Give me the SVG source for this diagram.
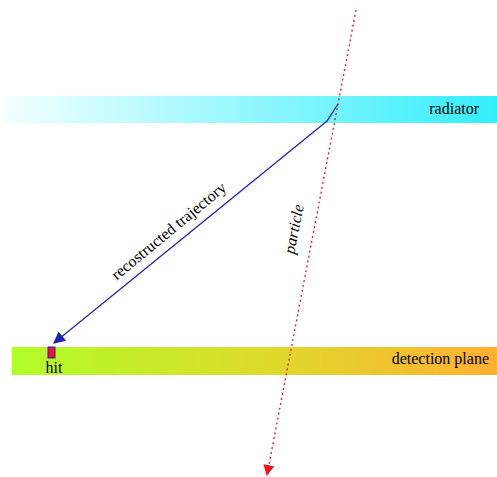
<svg xmlns="http://www.w3.org/2000/svg" width="497" height="477" viewBox="0 0 497 477">
<defs>
<linearGradient id="gRad" x1="0" y1="0" x2="1" y2="0">
<stop offset="0" stop-color="#f2ffff"/>
<stop offset="1" stop-color="#33eefc"/>
</linearGradient>
<linearGradient id="gDet" x1="0" y1="0" x2="1" y2="0">
<stop offset="0" stop-color="#b0fc28"/>
<stop offset="0.5" stop-color="#dcdc2c"/>
<stop offset="1" stop-color="#ffb030"/>
</linearGradient>
<marker id="arrBlue" viewBox="0 0 10 10" refX="9" refY="5" markerWidth="14" markerHeight="12" orient="auto" markerUnits="userSpaceOnUse">
<path d="M0,0 L10,5 L0,10 Z" fill="#2222bb"/>
</marker>
<marker id="arrRed" viewBox="0 0 10 10" refX="9" refY="5" markerWidth="13" markerHeight="11" orient="auto" markerUnits="userSpaceOnUse">
<path d="M0,0 L10,5 L0,10 Z" fill="#ee1122"/>
</marker>
<style>
.lbl{font-family:"Liberation Serif","Times New Roman",serif;font-size:16px;fill:#000}
</style>
</defs>
<g id="radiator">
<rect x="4" y="96" width="493" height="27" fill="url(#gRad)"/>
<text class="lbl" x="479" y="114" text-anchor="end">radiator</text>
</g>
<g id="detection-plane">
<rect x="12" y="347" width="485" height="28" fill="url(#gDet)"/>
<text class="lbl" x="489" y="364" text-anchor="end">detection plane</text>
</g>
<g id="hit">
<rect x="48" y="347" width="7" height="11" fill="#ee1133" stroke="#2222aa" stroke-width="1"/>
<text class="lbl" x="54" y="373" text-anchor="middle">hit</text>
</g>
<g id="connectors">
<polyline points="338,104 327,121 54,343" fill="none" stroke="#2222bb" stroke-width="1.3" marker-end="url(#arrBlue)"/>
<line x1="356" y1="10" x2="267" y2="475" stroke="#ee1133" stroke-width="1.3" stroke-dasharray="2,3" marker-end="url(#arrRed)"/>
<text class="lbl" transform="translate(172,235) rotate(-39.5)" text-anchor="middle">recostructed trajectory</text>
<text class="lbl" transform="translate(299,230) rotate(-79)" text-anchor="middle" font-style="italic">particle</text>
</g>
</svg>
